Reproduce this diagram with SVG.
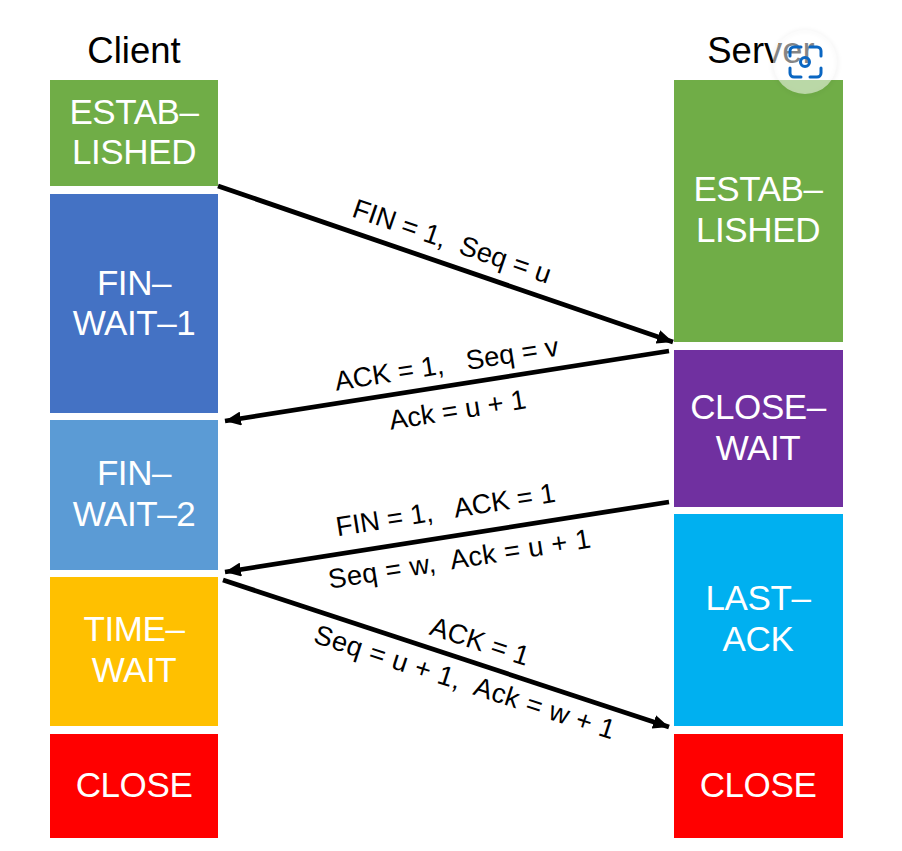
<svg xmlns="http://www.w3.org/2000/svg" width="902" height="851" viewBox="0 0 902 851">
<defs>
<style>
text{font-family:"Liberation Sans",Arial,sans-serif;fill:#000}
.n{font-size:35px;fill:#fff;text-anchor:middle;letter-spacing:-0.4px}
.h{font-size:36.5px;text-anchor:middle}
.l{font-size:27.3px;text-anchor:middle;white-space:pre}
.w{letter-spacing:.4px}
.c{fill:none;stroke:#000;stroke-width:4.8}
</style>
<marker id="a" markerUnits="userSpaceOnUse" markerWidth="18" markerHeight="14" refX="16" refY="7" orient="auto"><path d="M0 0L16 7L0 14Z" fill="#000"/></marker>
<filter id="s" x="-30%" y="-30%" width="160%" height="160%"><feGaussianBlur stdDeviation="2"/></filter>
</defs>
<rect width="902" height="851" fill="#fff"/>
<text class="h" x="134" y="63">Client</text>
<text class="h" x="761" y="63">Server</text>
<g id="client-established"><rect x="50" y="80" width="168" height="106" fill="#70ad47"/><text class="n" x="134" y="124">ESTAB–</text><text class="n" x="134" y="164">LISHED</text></g>
<g id="client-fin-wait-1"><rect x="50" y="194" width="168" height="219" fill="#4472c4"/><text class="n" x="134" y="295">FIN–</text><text class="n" x="134" y="335">WAIT–1</text></g>
<g id="client-fin-wait-2"><rect x="50" y="420" width="168" height="150" fill="#5b9bd5"/><text class="n" x="134" y="485">FIN–</text><text class="n" x="134" y="526">WAIT–2</text></g>
<g id="client-time-wait"><rect x="50" y="577" width="168" height="149" fill="#ffc000"/><text class="n" x="134" y="641">TIME–</text><text class="n" x="134" y="682">WAIT</text></g>
<g id="client-close"><rect x="50" y="734" width="168" height="104" fill="#ff0000"/><text class="n" x="134" y="797">CLOSE</text></g>
<g id="server-established"><rect x="674" y="80" width="169" height="262" fill="#70ad47"/><text class="n" x="758" y="201">ESTAB–</text><text class="n" x="758" y="242">LISHED</text></g>
<g id="server-close-wait"><rect x="674" y="350" width="169" height="157" fill="#7030a0"/><text class="n" x="758" y="419">CLOSE–</text><text class="n" x="758" y="460">WAIT</text></g>
<g id="server-last-ack"><rect x="674" y="514" width="169" height="212" fill="#00b0f0"/><text class="n" x="758" y="610">LAST–</text><text class="n" x="758" y="651">ACK</text></g>
<g id="server-close"><rect x="674" y="734" width="169" height="104" fill="#ff0000"/><text class="n" x="758" y="797">CLOSE</text></g>
<g id="connectors">
<line class="c" x1="218" y1="186" x2="673" y2="342" marker-end="url(#a)"/>
<line class="c" x1="669" y1="351" x2="225" y2="421" marker-end="url(#a)"/>
<line class="c" x1="669" y1="502" x2="225" y2="572" marker-end="url(#a)"/>
<line class="c" x1="223" y1="580" x2="669" y2="727" marker-end="url(#a)"/>
</g>
<g id="labels">
<text class="l" transform="translate(449,250) rotate(19)">FIN = 1,  Seq = u</text>
<text class="l" transform="translate(448,373) rotate(-9)">ACK = 1,   Seq = v</text>
<text class="l" transform="translate(459,419) rotate(-9)">Ack = u + 1</text>
<text class="l" transform="translate(447,519) rotate(-9)">FIN = 1,   ACK = 1</text>
<text class="l w" transform="translate(461,568) rotate(-9)">Seq = w,  Ack = u + 1</text>
<text class="l" transform="translate(477,650) rotate(18)">ACK = 1</text>
<text class="l w" transform="translate(462,691) rotate(18)">Seq = u + 1,  Ack = w + 1</text>
</g>
<g id="lens">
<circle cx="805" cy="63" r="32" fill="none" stroke="#000" stroke-opacity=".08" stroke-width="2" filter="url(#s)"/>
<circle cx="805" cy="62" r="32" fill="#fff" fill-opacity=".52"/>
<g fill="none" stroke="#0a66c2" stroke-width="3" stroke-linecap="round">
<path d="M790 56V51a4 4 0 0 1 4-4h7M810 47h7a4 4 0 0 1 4 4v5M821 68v5a4 4 0 0 1-4 4h-7M801 77h-7a4 4 0 0 1-4-4v-5"/>
<circle cx="805" cy="62" r="4.5"/>
</g>
</g>
</svg>
